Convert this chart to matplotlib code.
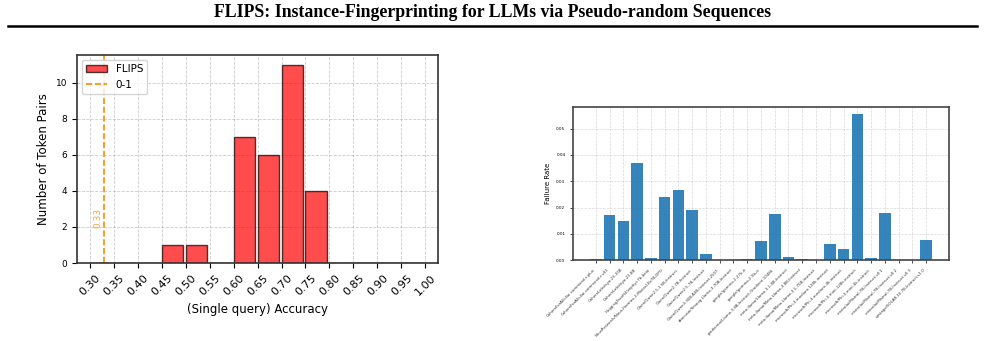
import numpy as np
import matplotlib
matplotlib.use('Agg')
import matplotlib.pyplot as plt

# left panel: histogram of single query accuracy
bin_left = [0.30, 0.35, 0.40, 0.45, 0.50, 0.55, 0.60, 0.65, 0.70, 0.75, 0.80, 0.85, 0.90, 0.95]
counts = [0, 0, 0, 1, 1, 0, 7, 6, 11, 4, 0, 0, 0, 0]
xticks = [0.30, 0.35, 0.40, 0.45, 0.50, 0.55, 0.60, 0.65, 0.70, 0.75, 0.80, 0.85, 0.90, 0.95, 1.00]
baseline = 0.33

# right panel: failure rate per model
models = [
    "CohereForAI/c4ai-command-r-plus",
    "CohereForAI/c4ai-command-r-v01",
    "CohereLabs/aya-23-35B",
    "CohereLabs/aya-23-8B",
    "HuggingFaceH4/zephyr-7b-beta",
    "NousResearch/Nous-Hermes-2-Mixtral-8x7B-DPO",
    "Qwen/Qwen2.5-1.5B-Instruct",
    "Qwen/Qwen2-7B-Instruct",
    "Qwen/Qwen2.5-7B-Instruct",
    "Qwen/Qwen3-30B-A3B-Instruct-2507",
    "abacusai/Smaug-Llama-3-70B-Instruct",
    "google/gemma-2-27b-it",
    "google/gemma-2-9b-it",
    "gradientai/Llama-3-8B-Instruct-Gradient-1048k",
    "meta-llama/Llama-3.1-8B-Instruct",
    "meta-llama/Meta-Llama-3-8B-Instruct",
    "meta-llama/Meta-Llama-3.1-70B-Instruct",
    "microsoft/Phi-3-medium-128k-instruct",
    "microsoft/Phi-3-medium-4k-instruct",
    "microsoft/Phi-3-mini-128k-instruct",
    "microsoft/Phi-3-mini-4k-instruct",
    "mistralai/Mistral-7B-Instruct-v0.1",
    "mistralai/Mistral-7B-Instruct-v0.2",
    "mistralai/Mistral-7B-Instruct-v0.3",
    "upstage/SOLAR-10.7B-Instruct-v1.0",
]
failure = [0.0003, 0.017, 0.015, 0.037, 0.0008, 0.024, 0.0267, 0.019, 0.0023,
           0.0001, 0.0001, 0.0002, 0.0072, 0.0175, 0.0011, 0.0002, 0.0001,
           0.006, 0.0042, 0.0555, 0.0007, 0.0178, 0.0001, 0.0001, 0.0075]

fig = plt.figure(figsize=(9.85, 3.41), dpi=100)

# page header
fig.text(0.5, 0.962, "FLIPS: Instance-Fingerprinting for LLMs via Pseudo-random Sequences",
         ha='center', va='center', fontsize=12.8, fontweight='bold', family='Liberation Serif')
fig.add_artist(plt.Line2D([0.008, 0.992], [0.923, 0.923], color='black', lw=1.8))

ax1 = fig.add_axes([0.0782, 0.2287, 0.3665, 0.61])
bars = ax1.bar(bin_left, counts, width=0.045, align='edge', color='red', alpha=0.7,
               edgecolor='black', linewidth=1, label='FLIPS')
vline = ax1.axvline(baseline, color='darkorange', ls='--', lw=1.2, label='0-1')
ax1.text(baseline - 0.004, 2.5, f"{baseline:.2f}", rotation=90, color='darkorange',
         ha='right', va='center', fontsize=6.5, alpha=0.8)
ax1.set_xlim(0.2736, 1.0264)
ax1.set_xticks(xticks)
ax1.set_xticklabels([f"{t:.2f}" for t in xticks], rotation=45, fontsize=8)
ax1.tick_params(axis='y', labelsize=6.5)
ax1.set_xlabel("(Single query) Accuracy", fontsize=8.5)
ax1.set_ylabel("Number of Token Pairs", fontsize=8.5)
ax1.grid(True, ls='--', color='gray', alpha=0.4, lw=0.6)
ax1.set_axisbelow(True)
ax1.legend(handles=[bars, vline], loc='upper left', fontsize=7.5)
for s in ax1.spines.values():
    s.set_color('#333333')
    s.set_linewidth(1.2)

ax2 = fig.add_axes([0.5817, 0.2375, 0.3817, 0.4487])
x = np.arange(len(models))
ax2.bar(x, failure, width=0.84, color='#1f77b4', alpha=0.9)
ax2.set_xticks(x)
ax2.set_xticklabels(models, rotation=45, ha='right', fontsize=2.8, color='#333333')
ax2.tick_params(axis='y', labelsize=3)
ax2.tick_params(length=2, width=0.5)
ax2.set_yticks([0, 0.01, 0.02, 0.03, 0.04, 0.05])
ax2.set_ylabel("Failure Rate", fontsize=5)
ax2.set_xlabel("Model", fontsize=5)
ax2.xaxis.set_label_coords(0.49, -0.53)
ax2.grid(True, ls='--', color='gray', alpha=0.3, lw=0.5)
ax2.set_axisbelow(True)
for s in ax2.spines.values():
    s.set_color('#444444')
    s.set_linewidth(1.2)

plt.savefig("out.png", dpi=100)
